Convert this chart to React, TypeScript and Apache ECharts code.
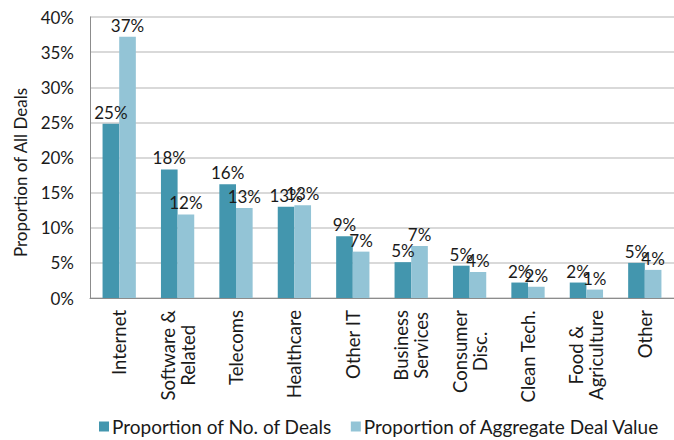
import React, { useEffect, useRef } from "react";
import * as echarts from "echarts";

const categories = [
  "Internet",
  "Software &\nRelated",
  "Telecoms",
  "Healthcare",
  "Other IT",
  "Business\nServices",
  "Consumer\nDisc.",
  "Clean Tech.",
  "Food &\nAgriculture",
  "Other",
];
const dealsShare = [24.8, 18.3, 16.2, 13.0, 8.8, 5.1, 4.6, 2.2, 2.2, 5.0];
const valueShare = [37.2, 11.9, 12.8, 13.2, 6.6, 7.4, 3.7, 1.6, 1.2, 4.0];
const seriesNames = ["Proportion of No. of Deals", "Proportion of Aggregate Deal Value"];

const FONT = "Lato";
const TXT = "#1a1a1a";

export default function App() {
  const ref = useRef<HTMLDivElement>(null);
  useEffect(() => {
    if (!ref.current) return;
    const chart = echarts.init(ref.current, undefined, { renderer: "svg" });
    const labelCfg = {
      show: true,
      position: "top" as const,
      distance: 3,
      fontFamily: FONT,
      fontSize: 17,
      color: TXT,
      formatter: (p: any) => Math.round(p.value) + "%",
    };
    chart.setOption({
      animation: false,
      textStyle: { fontFamily: FONT, color: TXT },
      grid: { left: 90, right: 0, top: 17, bottom: 142, containLabel: false },
      legend: {
        top: 412,
        left: 94,
        itemWidth: 10,
        itemHeight: 10,
        itemGap: 19,
        icon: "rect",
        textStyle: { fontFamily: FONT, fontSize: 19, color: TXT, padding: [0, 0, 0, -2] },
        data: seriesNames,
      },
      xAxis: {
        type: "category",
        data: categories,
        axisLine: { show: true, lineStyle: { color: "#8c8c8c", width: 1 } },
        axisTick: { show: false },
        axisLabel: {
          rotate: 90,
          margin: 12,
          interval: 0,
          fontFamily: FONT,
          fontSize: 18.5,
          color: TXT,
          formatter: (v: string) =>
            v
              .split("\n")
              .map((l) => "{c|" + l + "}")
              .join("\n"),
          rich: { c: { align: "center", fontFamily: FONT, fontSize: 18.5, color: TXT, lineHeight: 20 } },
        },
      },
      yAxis: {
        type: "value",
        min: 0,
        max: 40,
        interval: 5,
        name: "Proportion of All Deals",
        nameLocation: "middle",
        nameGap: 61,
        nameTextStyle: { fontFamily: FONT, fontSize: 17, color: TXT, padding: [0, 30, 0, 0] },
        axisLine: { show: true, lineStyle: { color: "#8c8c8c", width: 1 } },
        axisTick: { show: false },
        axisLabel: {
          formatter: "{value}%",
          margin: 16,
          fontFamily: FONT,
          fontSize: 17,
          color: TXT,
        },
        splitLine: { show: true, lineStyle: { color: "#d9d9d9", width: 2 } },
      },
      series: [
        {
          name: seriesNames[0],
          type: "bar",
          data: dealsShare,
          itemStyle: { color: "#4396AE" },
          barGap: "0%",
          barCategoryGap: "43%",
          label: labelCfg,
        },
        {
          name: seriesNames[1],
          type: "bar",
          data: valueShare,
          itemStyle: { color: "#93C4D6" },
          barGap: "0%",
          barCategoryGap: "43%",
          label: labelCfg,
        },
      ],
    });
    return () => chart.dispose();
  }, []);
  return (
    <div
      ref={ref}
      style={{ position: "fixed", left: 0, top: 0, width: 674, height: 440, background: "#fff" }}
    />
  );
}
